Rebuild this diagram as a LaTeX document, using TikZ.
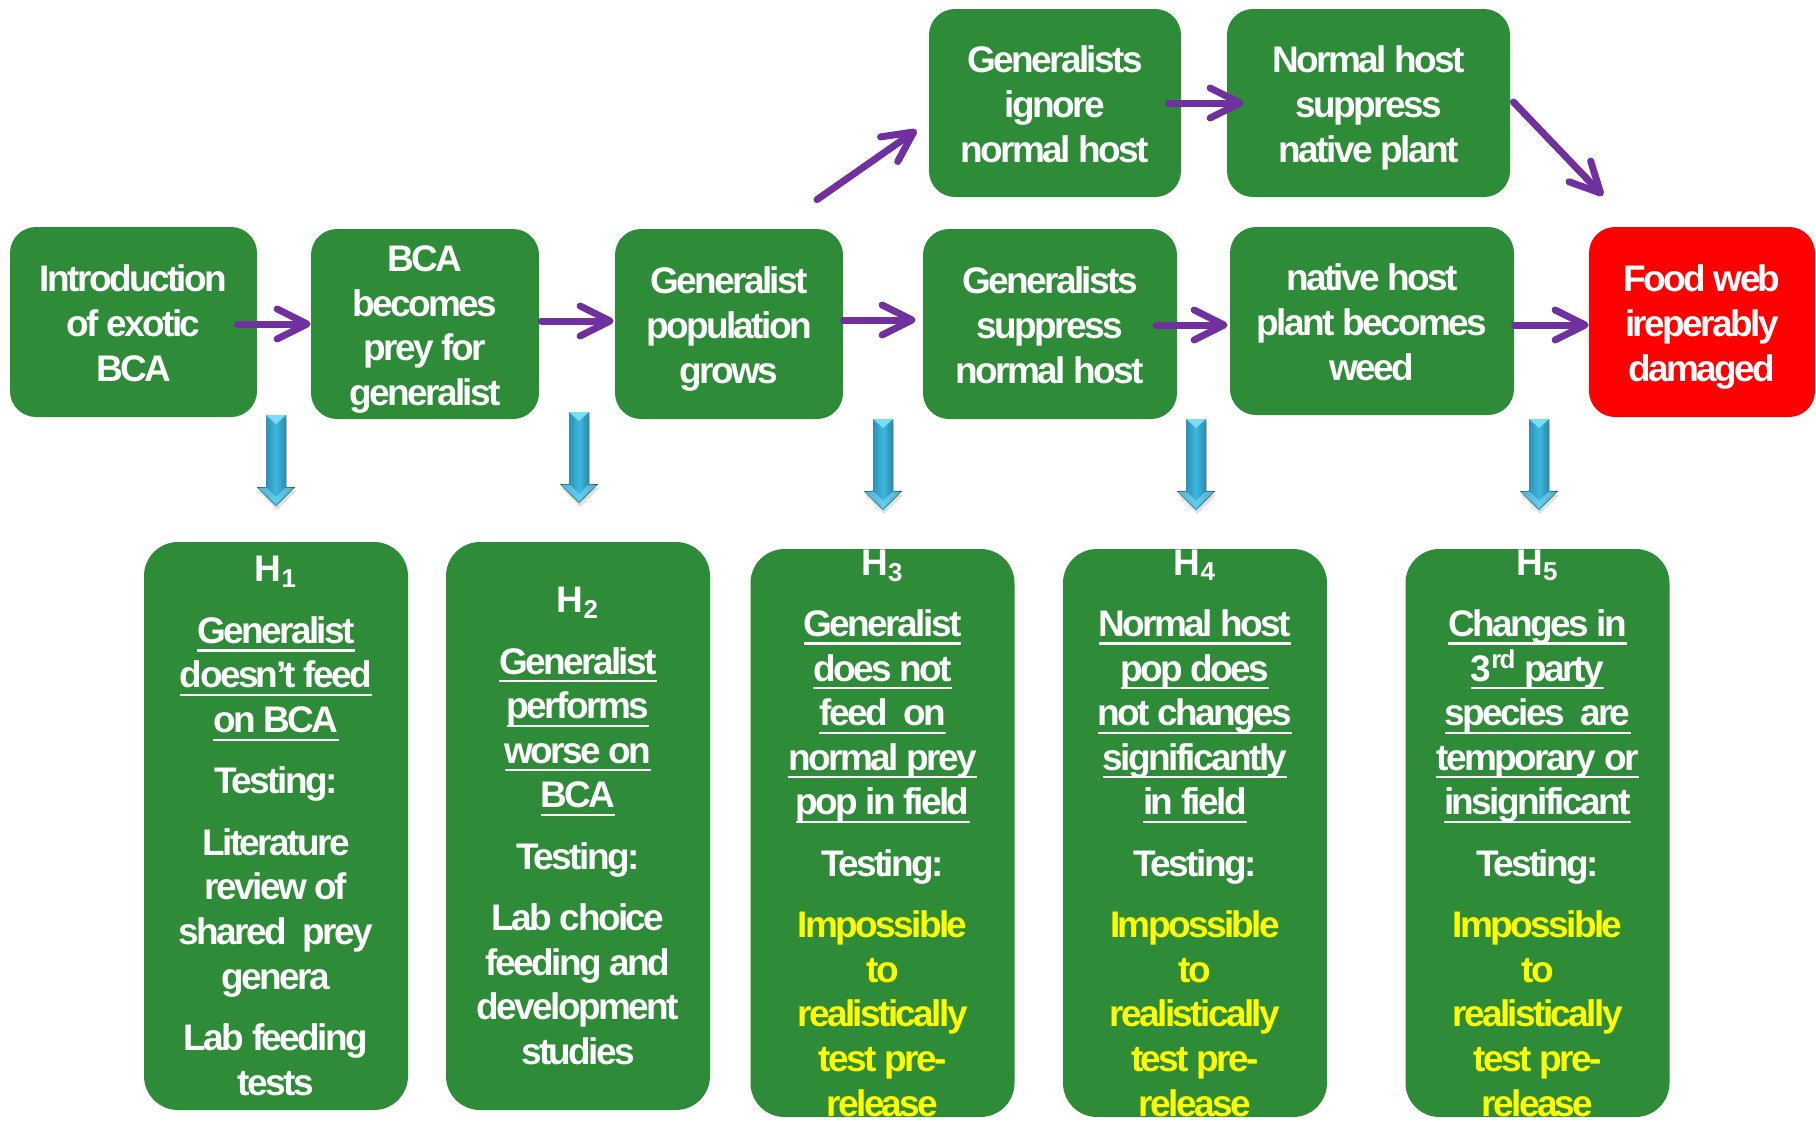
\documentclass[tikz,border=0pt]{standalone}
\usepackage{fontspec}
\setmainfont{Liberation Sans}[LetterSpace=-7]
\usetikzlibrary{arrows.meta,calc,shadows}
\definecolor{boxgreen}{HTML}{2E8B37}
\definecolor{arrpurple}{HTML}{7030A0}
\definecolor{hotred}{HTML}{FF0000}
\definecolor{testyellow}{HTML}{FFFF00}
\definecolor{bluedark}{HTML}{1E6F8E}
\definecolor{bluelight}{HTML}{3DB8E0}
\definecolor{bluehi}{HTML}{7ADCF5}
\newcommand\ulw[1]{\leavevmode\setbox0=\hbox{#1}\rlap{\rule[-4.1pt]{\wd0}{1.1pt}}\box0}
\newcommand\ylw[1]{{\color{testyellow}#1}}
\newcommand\firstln{\rule{0pt}{14.5pt}}
\newcommand\lastln[1]{\smash{#1}}
\newcommand\bluedown[2]{%
  \fill[downarrow] (#1-10,#2) -- (#1+10,#2) -- (#1+10,#2+72) -- (#1+19,#2+72)
     -- (#1,#2+91) -- (#1-19,#2+72) -- (#1-10,#2+72) -- cycle;
  \fill[bluehi] (#1-10,#2) -- (#1+10,#2) -- (#1,#2+9) -- cycle;
  \fill[bluehi,opacity=.6] (#1-18,#2+73) -- (#1-9,#2+73) -- (#1,#2+82) -- (#1+9,#2+73) -- (#1+18,#2+73) -- (#1,#2+89) -- cycle;}
\tikzset{
  boxfont/.style={font=\bfseries\fontsize{18.5pt}{22.3pt}\selectfont},
  flowbox/.style={boxfont, fill=boxgreen, rounded corners=13pt, inner sep=0pt,
     text=white, align=center},
  hbox/.style={fill=boxgreen, rounded corners=17pt, inner sep=0pt,
     minimum width=132pt, minimum height=284pt},
  htext/.style={boxfont, text=white, align=center, inner sep=0pt},
  parrow/.style={draw=arrpurple, line width=3.5pt, line cap=round,
     -{Straight Barb[length=15pt,width=15pt,round]}},
  downarrow/.style={left color=bluedark, right color=bluedark!85!black, middle color=bluelight,
     drop shadow={shadow xshift=0.5pt, shadow yshift=-2pt, opacity=0.25}},
}
\begin{document}
\begin{tikzpicture}[x=0.5pt,y=-0.5pt]
\useasboundingbox (0,0) rectangle (1816,1124);
\clip (0,0) rectangle (1816,1124);
% top row
\node[flowbox, minimum width=123.5pt, minimum height=95pt] (b1) at (133.5,322) {\firstln Introduction\\of exotic\\\lastln{BCA}};
\node[flowbox, minimum width=114pt, minimum height=95pt] (b2) at (425,324) {\firstln BCA\\becomes\\prey for\\\lastln{generalist}};
\node[flowbox, minimum width=114pt, minimum height=95pt] (b3) at (729,324) {\firstln Generalist\\population\\\lastln{grows}};
\node[flowbox, minimum width=127pt, minimum height=95pt] (b4) at (1050,324) {\firstln Generalists\\suppress\\\lastln{normal host}};
\node[flowbox, minimum width=142pt, minimum height=94pt] (b5) at (1372,321) {\firstln native host\\plant becomes\\\lastln{weed}};
\node[flowbox, fill=hotred, minimum width=113pt, minimum height=95pt] (b6) at (1702,322) {\firstln Food web\\ireperably\\\lastln{damaged}};
\node[flowbox, minimum width=126pt, minimum height=94pt] (b7) at (1055,103) {\firstln Generalists\\ignore\\\lastln{normal host}};
\node[flowbox, minimum width=141.5pt, minimum height=94pt] (b8) at (1368.5,103) {\firstln Normal host\\suppress\\\lastln{native plant}};
% purple arrows
\draw[parrow] ([xshift=-10pt,yshift=-1pt]b1.east) -- (b2.west);
\draw[parrow] ([xshift=1pt,yshift=1.5pt]b2.east) -- ([xshift=-0.5pt,yshift=1.5pt]b3.west);
\draw[parrow] ([yshift=2pt]b3.east) -- ([xshift=-3.5pt,yshift=2pt]b4.west);
\draw[parrow] ([xshift=-10.5pt,yshift=-0.5pt]b4.east) -- ([xshift=-1pt,yshift=-2pt]b5.west);
\draw[parrow] ([yshift=-2pt]b5.east) -- ([yshift=-1.5pt]b6.west);
\draw[parrow] ([xshift=-6.5pt]b7.east) -- ([xshift=8.5pt]b8.west);
\draw[parrow] ([xshift=44pt,yshift=14.5pt]b3.north) -- ([xshift=-6pt,yshift=-13.5pt]b7.west);
\draw[parrow] ([xshift=1.5pt,yshift=0.5pt]b8.east) -- ([xshift=-49.5pt,yshift=15.5pt]b6.north);
% blue arrows
\bluedown{276}{415}
\bluedown{579}{412}
\bluedown{883}{419}
\bluedown{1196}{419}
\bluedown{1539}{419}
% hypothesis boxes
\node[hbox] (h1) at (276,826) {};
\node[hbox] (h2) at (578,826) {};
\node[hbox] (h3) at (882.5,833) {};
\node[hbox] (h4) at (1195,833) {};
\node[hbox] (h5) at (1537.5,833) {};
\node[htext] (h1t) at (h1.center) {H\textsubscript{1}\\[8.4pt]
  \ulw{Generalist}\\\ulw{doesn’t feed}\\\ulw{on BCA}\\[8.4pt]
  Testing:\\[8.4pt]
  Literature\\review of\\shared\ \ prey\\genera\\[8.4pt]
  Lab feeding\\tests};
\node[htext] (h2t) at (h2.center) {H\textsubscript{2}\\[8.4pt]
  \ulw{Generalist}\\\ulw{performs}\\\ulw{worse on}\\\ulw{BCA}\\[8.4pt]
  Testing:\\[8.4pt]
  Lab choice\\feeding and\\development\\studies};
\node[htext] (h3t) at (h3.center) {H\textsubscript{3}\\[8.4pt]
  \ulw{Generalist}\\\ulw{does not}\\\ulw{feed\ \ on}\\\ulw{normal prey}\\\ulw{pop in field}\\[8.4pt]
  Testing:\\[8.4pt]
  \ylw{Impossible}\\\ylw{to}\\\ylw{realistically}\\\ylw{test pre-}\\\ylw{release}};
\node[htext] (h4t) at (h4.center) {H\textsubscript{4}\\[8.4pt]
  \ulw{Normal host}\\\ulw{pop does}\\\ulw{not changes}\\\ulw{significantly}\\\ulw{in field}\\[8.4pt]
  Testing:\\[8.4pt]
  \ylw{Impossible}\\\ylw{to}\\\ylw{realistically}\\\ylw{test pre-}\\\ylw{release}};
\node[htext] (h5t) at (h5.center) {H\textsubscript{5}\\[8.4pt]
  \ulw{Changes in}\\\ulw{3\textsuperscript{rd} party}\\\ulw{species\ \ are}\\\ulw{temporary or}\\\ulw{insignificant}\\[8.4pt]
  Testing:\\[8.4pt]
  \ylw{Impossible}\\\ylw{to}\\\ylw{realistically}\\\ylw{test pre-}\\\ylw{release}};
\end{tikzpicture}
\end{document}
